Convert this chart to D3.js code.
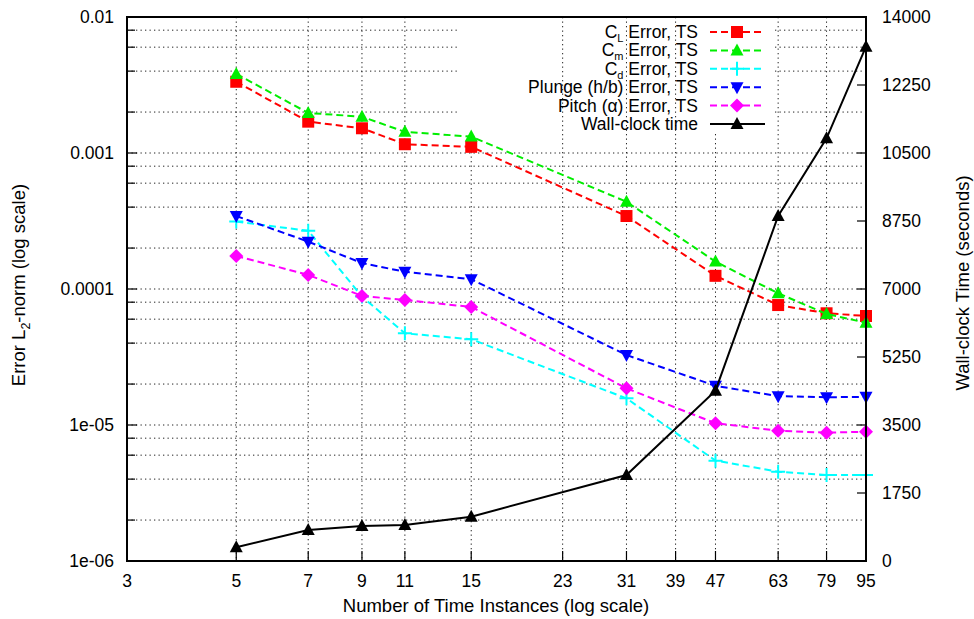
<!DOCTYPE html>
<html lang="en">
<head>
<meta charset="UTF-8">
<script src="https://d3js.org/d3.v7.min.js"></script>
<title>Time instances</title>
<style>
  body { margin: 0; background: #fff; }
  text { font-family: "Liberation Sans", Arial, sans-serif; font-size: 17.5px; fill: #000; }
  text.lab { font-size: 18.5px; }
</style>
</head>
<body>
<svg id="svg1" width="974" height="619"></svg>
<script>
// data
const instances = [5, 7, 9, 11, 15, 31, 47, 63, 79, 95];
const clErr    = [3.34e-3, 1.70e-3, 1.52e-3, 1.16e-3, 1.11e-3, 3.44e-4, 1.25e-4, 7.62e-5, 6.63e-5, 6.33e-5];
const cmErr    = [3.81e-3, 1.97e-3, 1.85e-3, 1.43e-3, 1.32e-3, 4.38e-4, 1.59e-4, 9.3e-5, 6.55e-5, 5.65e-5];
const cdErr    = [3.13e-4, 2.68e-4, 8.8e-5, 4.72e-5, 4.27e-5, 1.57e-5, 5.47e-6, 4.54e-6, 4.29e-6, 4.29e-6];
const plungeErr = [3.44e-4, 2.23e-4, 1.55e-4, 1.34e-4, 1.18e-4, 3.27e-5, 1.94e-5, 1.63e-5, 1.60e-5, 1.61e-5];
const pitchErr = [1.75e-4, 1.27e-4, 8.89e-5, 8.30e-5, 7.38e-5, 1.86e-5, 1.03e-5, 9.08e-6, 8.78e-6, 8.93e-6];
const wallTime = [352, 798, 901, 926, 1140, 2213, 4383, 8879, 10878, 13236];

const xTicks = [3, 5, 7, 9, 11, 15, 23, 31, 39, 47, 63, 79, 95];
const yLeftTicks = [1e-6, 1e-5, 1e-4, 1e-3, 1e-2];
const yLeftLabels = ["1e-06", "1e-05", "0.0001", "0.001", "0.01"];
const yRightTicks = [0, 1750, 3500, 5250, 7000, 8750, 10500, 12250, 14000];

const svg1 = d3.select("svg#svg1");
const L = 127, R = 866, T = 17, B = 561;

const xScale = d3.scaleLog().domain([3, 95]).range([L, R]);
const yScale = d3.scaleLog().domain([1e-6, 1e-2]).range([B, T]);
const tScale = d3.scaleLinear().domain([0, 14000]).range([B, T]);

// minor log positions 2,4,6,8 per decade
let minor = [];
yLeftTicks.slice(0, -1).forEach(d => [2, 4, 6, 8].forEach(k => minor.push(d * k)));

let grid = svg1.append("g").attr("id", "grid")
    .attr("stroke", "#222").attr("stroke-width", 1).attr("stroke-dasharray", "1.3,3.2");

grid.selectAll("line.h").data(yLeftTicks.concat(minor)).join("line")
    .attr("x1", L).attr("x2", R)
    .attr("y1", d => yScale(d)).attr("y2", d => yScale(d));
grid.selectAll("line.v").data(xTicks.slice(1, -1)).join("line")
    .attr("x1", d => xScale(d)).attr("x2", d => xScale(d))
    .attr("y1", T).attr("y2", B);

// key box hides the grid behind it
svg1.append("rect").attr("x", 457).attr("y", T + 1).attr("width", 318).attr("height", 114).attr("fill", "#fff");
grid.clone(false).raise().selectAll("line").data(xTicks.filter(d => d > 20 && d < 40)).join("line")
    .attr("x1", d => xScale(d)).attr("x2", d => xScale(d))
    .attr("y1", T).attr("y2", T + 116);

// axes
let axes = svg1.append("g").attr("stroke", "#000").attr("stroke-width", 1.2);
axes.selectAll("line.bt").data(xTicks.slice(1, -1)).join("line")
    .attr("x1", d => xScale(d)).attr("x2", d => xScale(d)).attr("y1", B).attr("y2", B - 10);
axes.selectAll("line.lt").data(yLeftTicks).join("line").attr("class", "lt")
    .attr("x1", L).attr("x2", L + 10).attr("y1", d => yScale(d)).attr("y2", d => yScale(d));
axes.selectAll("line.lm").data(minor).join("line").attr("class", "lm")
    .attr("x1", L).attr("x2", L + 8).attr("y1", d => yScale(d)).attr("y2", d => yScale(d));
axes.selectAll("line.rt").data(yRightTicks).join("line").attr("class", "rt")
    .attr("x1", R).attr("x2", R - 9).attr("y1", d => tScale(d)).attr("y2", d => tScale(d));

svg1.selectAll("text.xt").data(xTicks).join("text").attr("class", "xt")
    .attr("x", d => xScale(d)).attr("y", B + 26).attr("text-anchor", "middle").text(d => d);
svg1.selectAll("text.yl").data(yLeftTicks).join("text").attr("class", "yl")
    .attr("x", L - 13).attr("y", d => yScale(d) + 6).attr("text-anchor", "end")
    .text((d, i) => yLeftLabels[i]);
svg1.selectAll("text.yr").data(yRightTicks).join("text").attr("class", "yr")
    .attr("x", R + 16).attr("y", d => tScale(d) + 6).attr("text-anchor", "start").text(d => d);

svg1.append("text").attr("class", "lab").attr("x", 496).attr("y", 612).attr("text-anchor", "middle")
    .text("Number of Time Instances (log scale)");
let yl = svg1.append("text").attr("class", "lab").attr("transform", "translate(25,285) rotate(-90)").attr("text-anchor", "middle");
yl.append("tspan").text("Error L");
yl.append("tspan").attr("dy", 5).style("font-size", "12.5px").text("2");
yl.append("tspan").attr("dy", -5).text("-norm (log scale)");
svg1.append("text").attr("class", "lab").attr("transform", "translate(969,283) rotate(-90)").attr("text-anchor", "middle")
    .text("Wall-clock Time (seconds)");

// markers
const sym = {
  square: "M-6,-6H6V6H-6Z",
  tri: "M0,-7L6.5,5L-6.5,5Z",
  tridown: "M0,7L6.5,-5L-6.5,-5Z",
  diamond: "M0,-7L7,0L0,7L-7,0Z",
  plus: "M-7,0H7M0,-7V7"
};

const series = [
  {name: ["C", "L", " Error, TS"], vals: clErr, color: "#ff0000", mark: "square", dash: "7,4", scale: yScale},
  {name: ["C", "m", " Error, TS"], vals: cmErr, color: "#00ee00", mark: "tri", dash: "7,4", scale: yScale},
  {name: ["C", "d", " Error, TS"], vals: cdErr, color: "#00ffff", mark: "plus", dash: "7,4", scale: yScale},
  {name: ["Plunge (h/b) Error, TS"], vals: plungeErr, color: "#0000ff", mark: "tridown", dash: "7,4", scale: yScale},
  {name: ["Pitch (\u03b1) Error, TS"], vals: pitchErr, color: "#ff00ff", mark: "diamond", dash: "7,4", scale: yScale},
  {name: ["Wall-clock time"], vals: wallTime, color: "#000000", mark: "tri", dash: null, scale: tScale}
];

function drawMark(g, s, x, y) {
  let p = g.append("path").attr("d", sym[s.mark]).attr("transform", `translate(${x},${y})`);
  if (s.mark === "plus") p.attr("fill", "none").attr("stroke", s.color).attr("stroke-width", 2);
  else p.attr("fill", s.color);
}

let chartArea = svg1.append("g").attr("id", "points");
series.forEach(s => {
  let lineGen = d3.line()
      .x((d, i) => xScale(instances[i]))
      .y(d => s.scale(d));
  chartArea.append("path").datum(s.vals)
      .attr("fill", "none").attr("stroke", s.color).attr("stroke-width", 2)
      .attr("stroke-dasharray", s.dash).attr("d", lineGen);
  s.vals.forEach((d, i) => drawMark(chartArea, s, xScale(instances[i]), s.scale(d)));
});

// key
let key = svg1.append("g").attr("id", "key");
series.forEach((s, i) => {
  let y = 32 + i * 18.4;
  let t = key.append("text").attr("x", 698).attr("y", y + 6).attr("text-anchor", "end");
  if (s.name.length === 3) {
    t.append("tspan").text(s.name[0]);
    t.append("tspan").attr("dy", 4).style("font-size", "11px").text(s.name[1]);
    t.append("tspan").attr("dy", -4).text(s.name[2]);
  } else {
    t.text(s.name[0]);
  }
  key.append("line").attr("x1", 710).attr("x2", 765).attr("y1", y).attr("y2", y)
      .attr("stroke", s.color).attr("stroke-width", 2).attr("stroke-dasharray", s.dash);
  drawMark(key, s, 737, y);
});

// frame
svg1.append("rect").attr("x", L).attr("y", T).attr("width", R - L).attr("height", B - T)
    .attr("fill", "none").attr("stroke", "#000").attr("stroke-width", 2);
</script>
</body>
</html>
